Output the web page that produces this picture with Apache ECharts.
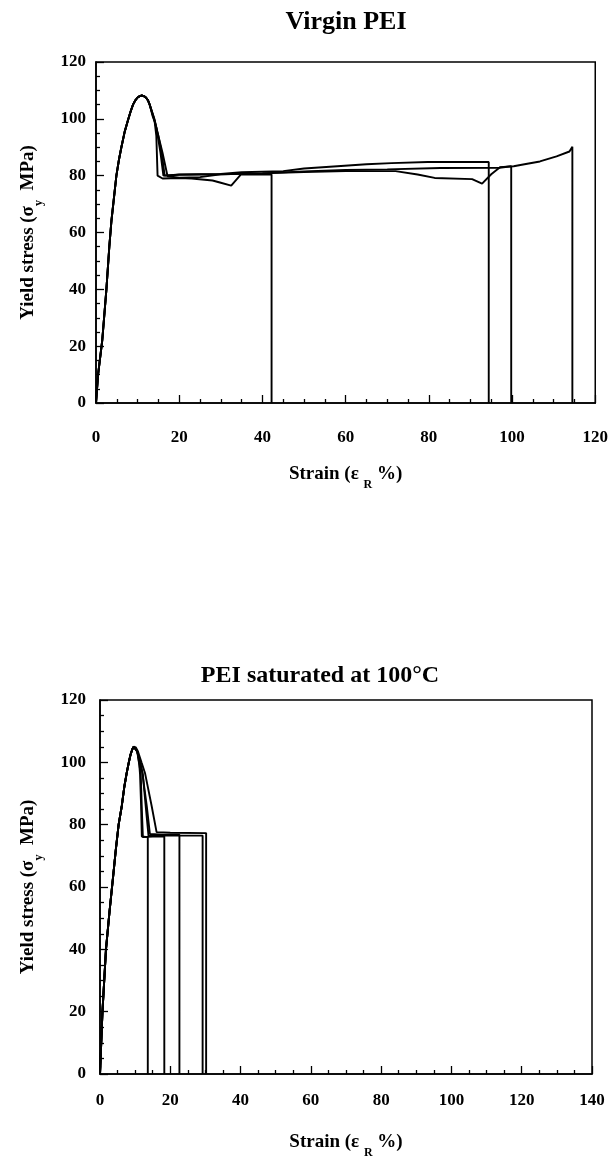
<!DOCTYPE html>
<html>
<head>
<meta charset="utf-8">
<script src="https://cdn.jsdelivr.net/npm/echarts@6/dist/echarts.min.js"></script>
<style>html,body{margin:0;padding:0;background:#fff;}#c{width:611px;height:1160px;}</style>
</head>
<body>
<div id="c"></div>
<script>
// ---- Tick labels / axis ranges ----
const virginXTicks = [0, 20, 40, 60, 80, 100, 120];
const satXTicks = [0, 20, 40, 60, 80, 100, 120, 140];
const yTicks = [0, 20, 40, 60, 80, 100, 120];

// ---- Virgin PEI: strain (%), stress (MPa) ----
const virgin1 = [[0,0],[0.5,10],[1.5,22],[2.5,40],[3.2,55],[3.7,64],[4.3,72],[4.9,80],[5.5,85.5],[6.1,90],[6.9,95.5],[7.7,99.6],[8.3,102.5],[8.9,105],[9.5,106.6],[10,107.5],[10.5,108],[11,108.2],[11.5,108],[12,107.5],[12.5,106.5],[12.9,105],[13.6,101],[14.1,99],[14.5,94],[14.8,80],[16,79],[20,79.2],[23,79],[28,78.3],[30,77.5],[32.5,76.5],[34.8,80.4],[38,80.5],[42.2,80.4],[42.2,0]];
const virgin2 = [[0,0],[0.5,10],[1.5,22],[2.5,40],[3.2,55],[3.7,64],[4.3,72],[4.9,80],[5.5,85.5],[6.1,90],[6.9,95.5],[7.7,99.6],[8.3,102.5],[8.9,105],[9.5,106.6],[10,107.5],[10.5,108],[11,108.2],[11.5,108],[12,107.5],[12.5,106.5],[12.9,105],[14,100],[15,94],[15.8,88],[16.5,80],[20,80.4],[30,80.6],[35,81.2],[45,81.6],[50,82.5],[58,83.3],[65,84],[71,84.4],[79.7,84.8],[94.4,84.8],[94.4,0]];
const virgin3 = [[0,0],[0.5,10],[1.5,22],[2.5,40],[3.2,55],[3.7,64],[4.3,72],[4.9,80],[5.5,85.5],[6.1,90],[6.9,95.5],[7.7,99.6],[8.3,102.5],[8.9,105],[9.5,106.6],[10,107.5],[10.5,108],[11,108.2],[11.5,108],[12,107.5],[12.5,106.5],[12.9,105],[14,100],[14.5,97],[15.5,88],[16.2,80],[20,80.3],[30,80.5],[40,80.8],[50,81.5],[60,82],[70,82.2],[82.8,82.7],[97,82.8],[99.8,83.3],[99.8,0]];
const virgin4 = [[0,0],[0.5,10],[1.5,22],[2.5,40],[3.2,55],[3.7,64],[4.3,72],[4.9,80],[5.5,85.5],[6.1,90],[6.9,95.5],[7.7,99.6],[8.3,102.5],[8.9,105],[9.5,106.6],[10,107.5],[10.5,108],[11,108.2],[11.5,108],[12,107.5],[12.5,106.5],[12.9,105],[14,99.6],[15.5,91],[16,88],[17.2,79.8],[20,79.3],[25,79.5],[30,80.5],[40,80.8],[50,81.3],[60,81.6],[72,81.6],[77.3,80.4],[81.4,79.2],[90.4,78.8],[92.8,77.2],[95,80.5],[97.1,83],[100.4,83.3],[103,84],[106.7,85],[110.7,86.8],[113.8,88.5],[114.5,90.2],[114.5,0]];

// ---- PEI saturated at 100 °C ----
const sat1 = [[0,0],[0.7,20],[1.7,40],[2.7,52],[3.7,63],[4.5,72],[5.3,80],[6.2,86],[6.9,92],[7.6,96.6],[8.2,100],[8.7,102.5],[9.2,104.2],[9.6,105],[10.1,104.8],[10.6,103.5],[11.2,99],[11.4,96],[11.7,86],[11.9,76.2],[13.6,76],[13.6,0]];
const sat2 = [[0,0],[0.7,20],[1.7,40],[2.7,52],[3.7,63],[4.5,72],[5.3,80],[6.2,86],[6.9,92],[7.6,96.6],[8.2,100],[8.7,102.5],[9.2,104.2],[9.6,105],[10.1,104.8],[10.6,103.5],[11.2,99.5],[11.6,96],[11.9,85],[12.2,76],[15,76.2],[18.3,76.3],[18.3,0]];
const sat3 = [[0,0],[0.7,20],[1.7,40],[2.7,52],[3.7,63],[4.5,72],[5.3,80],[6.2,86],[6.9,92],[7.6,96.6],[8.2,100],[8.7,102.5],[9.2,104.2],[9.6,105],[10.1,104.8],[10.6,103.5],[11.4,100],[12,97],[13.3,86],[14.2,77],[18,76.8],[22.6,76.8],[22.6,0]];
const sat4 = [[0,0],[0.7,20],[1.7,40],[2.7,52],[3.7,63],[4.5,72],[5.3,80],[6.2,86],[6.9,92],[7.6,96.6],[8.2,100],[8.7,102.5],[9.2,104.2],[9.6,105],[10.2,104.8],[10.8,103.5],[11.8,100],[12.8,96.6],[14.7,86],[16.1,77.6],[20,77.4],[30.2,77.3],[30.2,0]];
const sat5 = [[0,0],[0.7,20],[1.7,40],[2.7,52],[3.7,63],[4.5,72],[5.3,80],[6.2,86],[6.9,92],[7.6,96.6],[8.2,100],[8.7,102.5],[9.2,104.2],[9.6,105],[10.1,104.8],[10.6,103.5],[11.5,99.5],[12.2,96],[13,86],[13.8,76.5],[20,76.5],[29.2,76.5],[29.2,0]];

const virginSeries = [virgin1, virgin2, virgin3, virgin4];
const satSeries = [sat1, sat2, sat3, sat4, sat5];

const FONT = '"Liberation Serif", "Times New Roman", serif';

function nameRich() {
  return {
    n: { fontFamily: FONT, fontWeight: 'bold', fontSize: 19, color: '#000', lineHeight: 34 },
    s: { fontFamily: FONT, fontWeight: 'bold', fontSize: 12, color: '#000', lineHeight: 12, verticalAlign: 'bottom' }
  };
}
function xAxisCfg(gridIndex, ticks, labelMargin, nameGap) {
  return {
    type: 'value', gridIndex: gridIndex,
    min: ticks[0], max: ticks[ticks.length - 1], interval: ticks[1] - ticks[0],
    name: '{n|Strain (ε }{s|R}{n| %)}',
    nameLocation: 'middle', nameGap: nameGap,
    nameTextStyle: { rich: nameRich() },
    axisLine: { show: true, lineStyle: { color: '#000', width: 1.6 } },
    axisTick: { show: true, inside: true, length: 8, lineStyle: { color: '#000', width: 1.3 } },
    minorTick: { show: true, splitNumber: 4, length: 4, lineStyle: { color: '#000', width: 1.3 } },
    splitLine: { show: false },
    axisLabel: { fontFamily: FONT, fontWeight: 'bold', fontSize: 17, color: '#000', margin: labelMargin }
  };
}
function yAxisCfg(gridIndex, labelMargin, nameGap) {
  return {
    type: 'value', gridIndex: gridIndex,
    min: yTicks[0], max: yTicks[yTicks.length - 1], interval: yTicks[1] - yTicks[0],
    name: '{n|Yield stress (σ}{s|y}{n|  MPa)}',
    nameLocation: 'middle', nameGap: nameGap,
    nameTextStyle: { rich: nameRich() },
    axisLine: { show: true, lineStyle: { color: '#000', width: 1.6 } },
    axisTick: { show: true, inside: true, length: 8, lineStyle: { color: '#000', width: 1.3 } },
    minorTick: { show: true, splitNumber: 4, length: 4, lineStyle: { color: '#000', width: 1.3 } },
    splitLine: { show: false },
    axisLabel: { fontFamily: FONT, fontWeight: 'bold', fontSize: 17, color: '#000', margin: labelMargin }
  };
}

const series = [];
virginSeries.forEach(d => series.push({ type: 'line', xAxisIndex: 0, yAxisIndex: 0, data: d, showSymbol: false, lineStyle: { color: '#000', width: 1.9 } }));
satSeries.forEach(d => series.push({ type: 'line', xAxisIndex: 1, yAxisIndex: 1, data: d, showSymbol: false, lineStyle: { color: '#000', width: 1.9 } }));

const chart = echarts.init(document.getElementById('c'), null, { renderer: 'canvas' });
chart.setOption({
  animation: false,
  backgroundColor: '#fff',
  title: [
    { text: 'Virgin PEI', left: 346, top: 9, textAlign: 'center', padding: 0,
      textStyle: { fontFamily: FONT, fontWeight: 'bold', fontSize: 26, color: '#000' } },
    { text: 'PEI saturated at 100°C', left: 320, top: 664, textAlign: 'center', padding: 0,
      textStyle: { fontFamily: FONT, fontWeight: 'bold', fontSize: 24, color: '#000' } }
  ],
  grid: [
    { left: 96, top: 62, width: 503, height: 341, show: true, borderColor: '#000', borderWidth: 1.5, backgroundColor: 'transparent' },
    { left: 100, top: 700, width: 492, height: 377, show: true, borderColor: '#000', borderWidth: 1.5, backgroundColor: 'transparent' }
  ],
  xAxis: [xAxisCfg(0, virginXTicks, 26, 54), xAxisCfg(1, satXTicks, 18, 51)],
  yAxis: [yAxisCfg(0, 10, 51), yAxisCfg(1, 14, 55)],
  series: series
});
</script>
</body>
</html>
